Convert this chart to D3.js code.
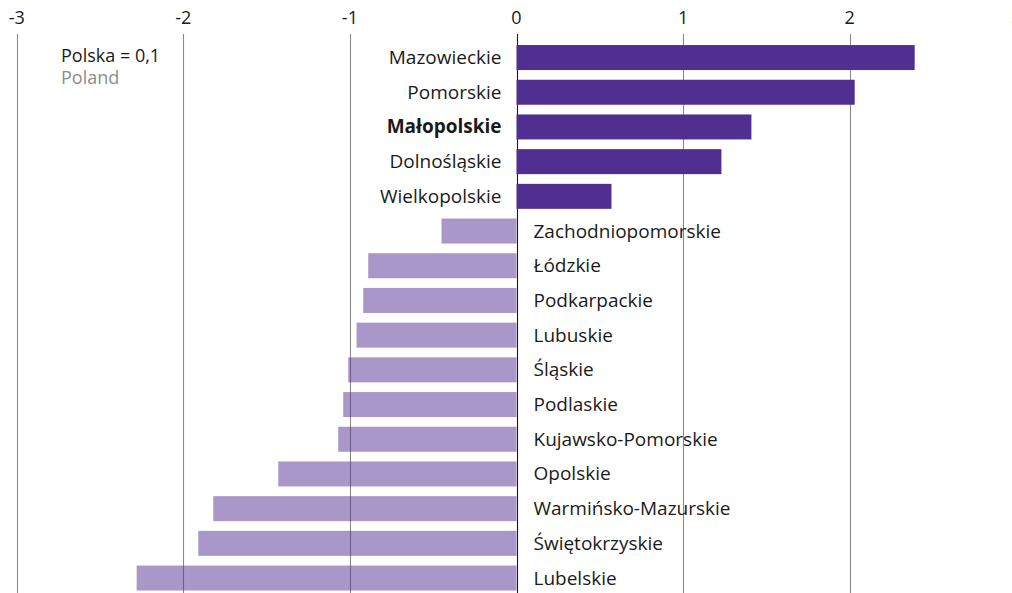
<!DOCTYPE html>
<html>
<head>
<meta charset="utf-8">
<script src="https://cdn.jsdelivr.net/npm/d3@7"></script>
<style>
  body { margin: 0; background: #fff; }
  #canvas { width: 1012px; height: 593px; }
  text { font-family: "Open Sans", "Noto Sans", sans-serif; }
</style>
</head>
<body>
<div id="canvas"></div>
<script>
var regions = ["Mazowieckie", "Pomorskie", "Małopolskie", "Dolnośląskie", "Wielkopolskie",
  "Zachodniopomorskie", "Łódzkie", "Podkarpackie", "Lubuskie", "Śląskie", "Podlaskie",
  "Kujawsko-Pomorskie", "Opolskie", "Warmińsko-Mazurskie", "Świętokrzyskie", "Lubelskie"];
var values = [2.39, 2.03, 1.41, 1.23, 0.57, -0.45, -0.89, -0.92, -0.96, -1.01, -1.04,
  -1.07, -1.43, -1.82, -1.91, -2.28];
var tickValues = [-3, -2, -1, 0, 1, 2, 3];
var highlight = "Małopolskie";
var legendLines = ["Polska = 0,1", "Poland"];

var width = 1012, height = 593;
var purple = "#512f91";

var svg = d3.select("#canvas").append("svg")
    .attr("width", width)
    .attr("height", height);

var x = d3.scaleLinear().domain([-3, 3]).range([16.7, 1016.3]);
var y = d3.scaleBand().domain(regions).range([40.2, 595.4]).paddingInner(0.28).paddingOuter(0.14);

var gridG = svg.append("g");
var barG = svg.append("g");
var labelG = svg.append("g");

// grid lines
gridG.selectAll("line").data(tickValues).enter().append("line")
    .attr("x1", function (d) { return Math.round(x(d)) + 0.5; })
    .attr("x2", function (d) { return Math.round(x(d)) + 0.5; })
    .attr("y1", 34)
    .attr("y2", height)
    .style("stroke", function (d) { return d === 0 ? "#1a1a1a" : "#8a8a8a"; })
    .style("stroke-width", 1.1);

// tick labels
svg.append("g").selectAll("text").data(tickValues).enter().append("text")
    .attr("x", function (d) { return x(d); })
    .attr("y", 24)
    .attr("text-anchor", "middle")
    .style("font-size", "18px")
    .style("fill", "#1a1a1a")
    .text(function (d) { return d; });

// bars
barG.selectAll("rect").data(regions).enter().append("rect")
    .attr("x", function (d, i) { return Math.min(x(0), x(values[i])); })
    .attr("y", function (d) { return y(d); })
    .attr("width", function (d, i) { return Math.abs(x(values[i]) - x(0)); })
    .attr("height", y.bandwidth())
    .style("fill", purple)
    .style("fill-opacity", function (d, i) { return values[i] >= 0 ? 1 : 0.5; });

// region labels
labelG.selectAll("text").data(regions).enter().append("text")
    .attr("x", function (d, i) { return values[i] >= 0 ? x(0) - 15 : x(0) + 17; })
    .attr("y", function (d) { return y(d) + y.bandwidth() / 2 + 6.5; })
    .attr("text-anchor", function (d, i) { return values[i] >= 0 ? "end" : "start"; })
    .style("font-size", "19px")
    .style("font-weight", function (d) { return d === highlight ? "bold" : "normal"; })
    .style("fill", "#1a1a1a")
    .text(function (d) { return d; });

// legend
svg.append("g").selectAll("text").data(legendLines).enter().append("text")
    .attr("x", 61)
    .attr("y", function (d, i) { return 62 + i * 22; })
    .style("font-size", "18px")
    .style("fill", function (d, i) { return i === 0 ? "#1a1a1a" : "#8c8c8c"; })
    .text(function (d) { return d; });
</script>
</body>
</html>
